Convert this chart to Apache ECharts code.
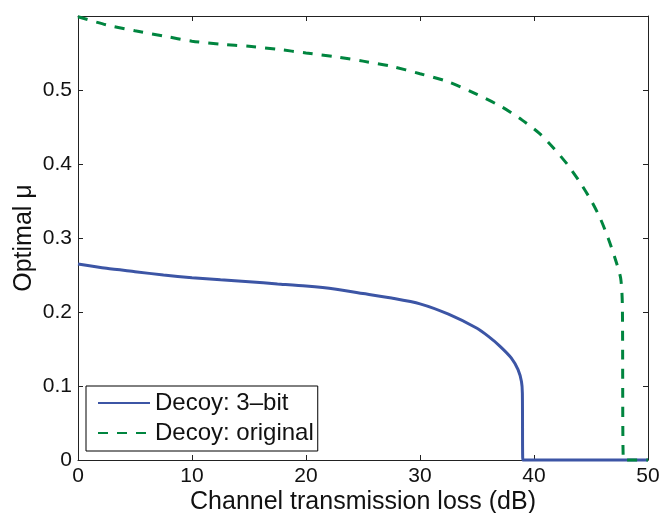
<!DOCTYPE html>
<html>
<head>
<meta charset="utf-8">
<title>Optimal mu vs channel loss</title>
<script src="https://cdn.jsdelivr.net/npm/echarts@6/dist/echarts.min.js"></script>
<style>
  html, body { margin: 0; padding: 0; background: #fff; }
  #chart { width: 661px; height: 513px; }
</style>
</head>
<body>
<div id="chart"></div>
<script>
// data
var loss3bit = [0, 2.5, 5, 7.5, 10, 12.5, 15, 17.5, 20, 22.5, 25, 27.5, 30, 32.5, 35, 36, 37, 38, 38.6, 38.9, 38.98, 39.02, 45, 50]
var mu3bit = [0.265, 0.259, 0.2545, 0.250, 0.2464, 0.2435, 0.241, 0.238, 0.235, 0.231, 0.225, 0.2188, 0.211, 0.197, 0.178, 0.167, 0.154, 0.138, 0.122, 0.106, 0.09, 0, 0, 0]

var lossOrig = [0, 2.5, 5, 7.5, 10, 12.5, 15, 17.5, 20, 22.5, 25, 27.5, 30, 32.5, 35, 37.2, 38.9, 40.5, 41.75, 42.95, 44, 45, 45.8, 46.5, 47.1, 47.6, 47.75, 47.85, 49, 50]
var muOrig = [0.599, 0.588, 0.580, 0.573, 0.566, 0.562, 0.559, 0.555, 0.550, 0.545, 0.539, 0.532, 0.522, 0.511, 0.494, 0.477, 0.460, 0.441, 0.421, 0.399, 0.376, 0.351, 0.327, 0.300, 0.273, 0.246, 0.21, 0, 0, 0]

var xTicks = [0, 10, 20, 30, 40, 50]
var yTicks = [0, 0.1, 0.2, 0.3, 0.4, 0.5]

function pairs (xs, ys) {
  return xs.map(function (x, i) { return [x, ys[i]] })
}

var font = 'Liberation Sans, Arial, Helvetica, sans-serif'
var frame = '#222'

var chart = echarts.init(document.getElementById('chart'))

// box-style axes: ticks inside on all four sides
function boxAxis (extra) {
  var base = {
    type: 'value',
    axisLine: { show: true, onZero: false, lineStyle: { color: frame, width: 1 } },
    axisTick: { show: true, inside: true, length: 5, lineStyle: { color: frame } },
    splitLine: { show: false }
  }
  return Object.assign(base, extra)
}

var option = {
  backgroundColor: '#fff',
  animation: false,
  grid: { left: 78, right: 13, top: 16, bottom: 53, outerBoundsMode: 'none', containLabel: false },
  legend: {
    orient: 'vertical',
    left: 86,
    top: 386,
    padding: [4, 4, 5, 11],
    itemGap: 4,
    itemWidth: 52,
    itemHeight: 14,
    backgroundColor: '#fff',
    borderColor: '#000',
    borderWidth: 1,
    // hide the marker dot, keep only the line sample
    itemStyle: { color: 'rgba(0,0,0,0)', borderWidth: 0 },
    textStyle: { fontFamily: font, fontSize: 24, color: '#111', lineHeight: 26 },
    data: ['Decoy: 3\u2013bit', 'Decoy: original']
  },
  xAxis: [
    boxAxis({
      min: 0, max: 50, interval: 10,
      position: 'bottom',
      name: 'Channel transmission loss (dB)',
      nameLocation: 'middle',
      nameGap: 30,
      nameMoveOverlap: false,
      nameTextStyle: { fontFamily: font, fontSize: 25, color: '#111' },
      axisLabel: { margin: 6, fontFamily: font, fontSize: 21, color: '#111' }
    }),
    boxAxis({
      min: 0, max: 50, interval: 10,
      position: 'top',
      axisLabel: { show: false }
    })
  ],
  yAxis: [
    boxAxis({
      min: 0, max: 0.6, interval: 0.1,
      position: 'left',
      name: 'Optimal \u03bc',
      nameLocation: 'middle',
      nameGap: 41,
      nameMoveOverlap: false,
      nameTextStyle: { fontFamily: font, fontSize: 25, color: '#111' },
      axisLabel: {
        margin: 6, fontFamily: font, fontSize: 21, color: '#111',
        formatter: function (v) {
          // top edge 0.6 has no label in the original
          var hit = yTicks.filter(function (t) { return Math.abs(t - v) < 1e-6 })
          if (!hit.length) return ''
          return v === 0 ? '0' : v.toFixed(1)
        }
      }
    }),
    boxAxis({
      min: 0, max: 0.6, interval: 0.1,
      position: 'right',
      axisLabel: { show: false }
    })
  ],
  series: [
    {
      name: 'Decoy: 3\u2013bit',
      type: 'line',
      symbol: 'none',
      clip: false,
      smooth: 0.25,
      z: 3,
      color: '#3c55a5',
      lineStyle: { color: '#3c55a5', width: 3 },
      data: pairs(loss3bit, mu3bit)
    },
    {
      name: 'Decoy: original',
      type: 'line',
      symbol: 'none',
      clip: false,
      smooth: 0.25,
      z: 4,
      color: '#00853f',
      lineStyle: { color: '#00853f', width: 3, type: [10, 9] },
      data: pairs(lossOrig, muOrig)
    }
  ]
}

chart.setOption(option)
</script>
</body>
</html>
